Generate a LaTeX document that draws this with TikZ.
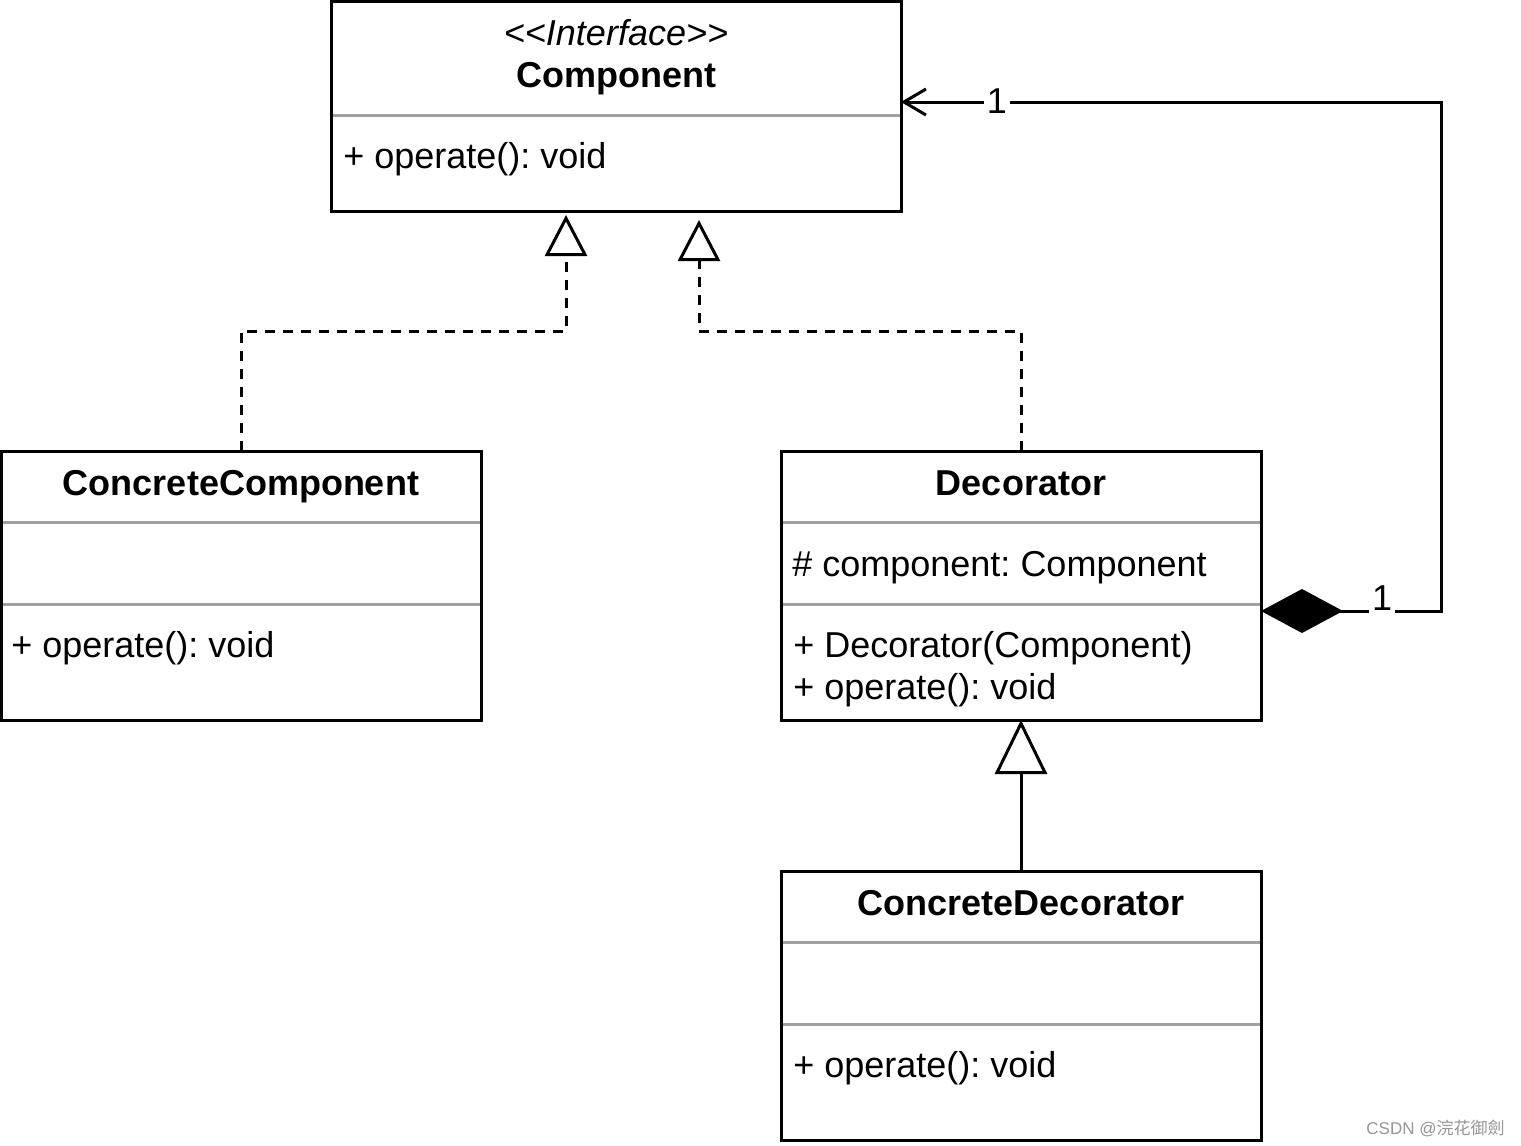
\documentclass[tikz,border=0pt]{standalone}
\usepackage{fontspec}
\setmainfont{Liberation Sans}
\newfontfamily\cjk{Noto Sans CJK SC}
\usetikzlibrary{arrows.meta,calc}
\definecolor{dividergray}{RGB}{160,160,160}
\definecolor{wmgray}{RGB}{150,150,150}
\newcommand\fs{\fontsize{18pt}{21pt}\selectfont\frenchspacing}
\begin{document}
\begin{tikzpicture}[x=0.5pt,y=-0.5pt,
  classbox/.style={draw, line width=1.5pt, rectangle, anchor=north west, inner sep=0pt, outer sep=0pt,
    minimum width=240pt, minimum height=134.5pt},
  divider/.style={draw=dividergray, line width=1.5pt},
  txt/.style={inner sep=0pt, font=\fs},
  txtit/.style={inner sep=0pt, font=\fs\itshape},
  txtbf/.style={inner sep=0pt, font=\fs\bfseries},
  lbl/.style={inner xsep=1.5pt, inner ysep=3pt, fill=white, font=\fs},
  solidline/.style={draw, line width=1.5pt},
  dashline/.style={draw, line width=1.5pt, dash pattern=on 5pt off 4pt},
  realize/.style={-{Triangle[open,length=20.5pt,width=21pt]}},
  inherit/.style={-{Triangle[open,length=27pt,width=26pt]}},
  assoc/.style={{Diamond[length=41pt,width=22pt]}-{Straight Barb[length=11pt,width=13pt]}}
]
\fill[white] (0,0) rectangle (1521,1146);
\useasboundingbox (0,0) rectangle (1521,1146);

% dividers
\draw[divider] (331,115) -- (901,115);
\draw[divider] (1,522) -- (481,522);
\draw[divider] (1,604) -- (481,604);
\draw[divider] (781,522) -- (1261,522);
\draw[divider] (781,604) -- (1261,604);
\draw[divider] (781,942) -- (1261,942);
\draw[divider] (781,1024) -- (1261,1024);

% boxes
\node[classbox, minimum width=285pt, minimum height=105pt] (comp) at (331,1) {};
\node[classbox] (cc) at (1,451) {};
\node[classbox] (dec) at (781,451) {};
\node[classbox] (cd) at (781,871) {};

% texts
\node[txtit, anchor=base] (compst) at (616,45) {<\kern0pt<Interface>\kern0pt>};
\node[txtbf, anchor=base] (compname) at (616,87) {Component};
\node[txt, anchor=base west] (compop) at (343,168) {+ operate(): void};

\node[txtbf, anchor=base] (ccname) at (241,495) {ConcreteComponent};
\node[txt, anchor=base west] (ccop) at (11,657) {+ operate(): void};

\node[txtbf, anchor=base] (decname) at (1021,495) {Decorator};
\node[txt, anchor=base west] (decattr) at (792,576) {\# component: Component};
\node[txt, anchor=base west] (decop1) at (793,657) {+ Decorator(Component)};
\node[txt, anchor=base west] (decop2) at (793,699) {+ operate(): void};

\node[txtbf, anchor=base] (cdname) at (1021,915) {ConcreteDecorator};
\node[txt, anchor=base west] (cdop) at (793,1077) {+ operate(): void};

% connectors
\draw[dashline, realize, shorten >=2pt] (cc.north) -- ++(0,-120) -| ($(comp.south)+(-50,0)$);
\draw[dashline, realize, shorten >=4.5pt] (dec.north) -- ++(0,-120) -| ($(comp.south)+(83,0)$);
\draw[solidline, inherit] (cd.north) -- (dec.south);
\draw[solidline, assoc] ($(dec.east)+(0,25.5)$) -- ++(180,0) |- ($(comp.east)+(0,-4)$);

\node[lbl] (m1) at (997,101) {1};
\node[lbl] (m2) at (1382,598) {1};

% watermark
\node[anchor=base east, inner sep=0pt, font=\fontsize{8.5pt}{10pt}\selectfont, text=wmgray] (wm) at (1505,1134) {CSDN @{\cjk 浣花御劍}};
\end{tikzpicture}
\end{document}
